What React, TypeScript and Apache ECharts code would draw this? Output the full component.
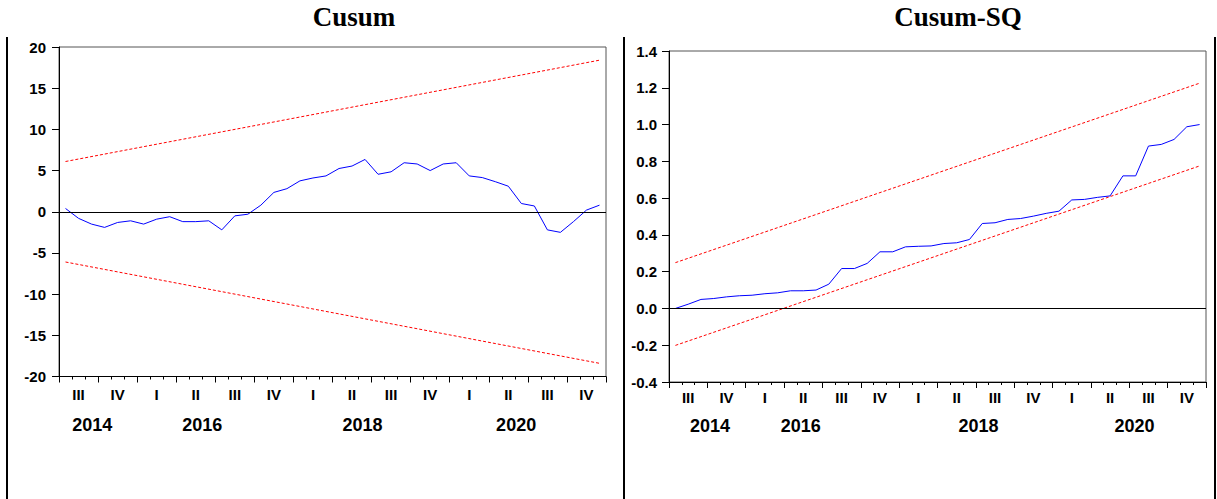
import React, { useEffect, useRef } from "react";
import * as echarts from "echarts";

const cusum = [
  0.4, -0.8, -1.5, -1.9, -1.3, -1.1, -1.5, -0.9, -0.6, -1.2, -1.2, -1.1, -2.2, -0.5,
  -0.3, 0.8, 2.35, 2.8, 3.75, 4.1, 4.35, 5.25, 5.55, 6.35, 4.55, 4.85, 5.95, 5.8,
  5.0, 5.8, 5.95, 4.35, 4.15, 3.65, 3.1, 1.0, 0.7, -2.2, -2.5, -1.2, 0.2, 0.8,
];
const cusumUpper = [6.1, 18.4];
const cusumLower = [-6.1, -18.4];

const cusumSq = [
  0.0, 0.023, 0.049, 0.054, 0.063, 0.069, 0.072, 0.08, 0.085, 0.096, 0.096, 0.1, 0.132, 0.217,
  0.217, 0.245, 0.308, 0.308, 0.335, 0.338, 0.34, 0.353, 0.357, 0.375, 0.462, 0.466, 0.484, 0.489,
  0.502, 0.517, 0.529, 0.59, 0.593, 0.604, 0.612, 0.721, 0.721, 0.883, 0.892, 0.919, 0.988, 1.0,
];
const sqUpper = [0.249, 1.225];
const sqLower = [-0.201, 0.775];

const quarterLabels = ["III", "IV", "I", "II", "III", "IV", "I", "II", "III", "IV", "I", "II", "III", "IV"];
const yearLabels = ["2014", "2016", "2018", "2020"];
const yearPosLeft = [2.55, 11.0, 23.3, 35.1];
const yearPosRight = [3.2, 10.3, 24.2, 36.4];

const SANS = '"Liberation Sans", Arial, sans-serif';
const SERIF = '"Liberation Serif", "Times New Roman", serif';

export default function App() {
  const ref = useRef<HTMLDivElement>(null);

  useEffect(() => {
    if (!ref.current) return;
    const chart = echarts.init(ref.current, undefined, { renderer: "svg" });
    const n = cusum.length;
    const quarterPos = quarterLabels.map((_, i) => i * 3 + 1.5);

    const xAxes = (g: number, yearPos: number[], qMargin: number, yMargin: number) => [
      {
        gridIndex: g,
        type: "value",
        min: 0,
        max: n,
        interval: 3,
        position: "bottom",
        axisLine: { show: true, onZero: false, lineStyle: { color: "#000", width: 1 } },
        axisTick: { show: true, length: 6, lineStyle: { color: "#000" } },
        minorTick: { show: true, splitNumber: 3, length: 3, lineStyle: { color: "#000" } },
        splitLine: { show: false },
        minorSplitLine: { show: false },
        axisLabel: {
          customValues: quarterPos,
          formatter: (v: number) => quarterLabels[Math.round((v - 1.5) / 3)] ?? "",
          fontFamily: SANS,
          fontWeight: "bold",
          fontSize: 15,
          color: "#000",
          margin: qMargin,
        },
      },
      {
        gridIndex: g,
        type: "value",
        min: 0,
        max: n,
        position: "bottom",
        axisLine: { show: false },
        axisTick: { show: false },
        splitLine: { show: false },
        axisLabel: {
          customValues: yearPos,
          formatter: (v: number) => {
            const k = yearPos.findIndex((p) => Math.abs(p - v) < 1e-6);
            return k >= 0 ? yearLabels[k] : "";
          },
          fontFamily: SANS,
          fontWeight: "bold",
          fontSize: 18,
          color: "#000",
          margin: yMargin,
        },
      },
    ];

    const yAxis = (g: number, min: number, max: number, interval: number, dec: number, margin: number) => ({
      gridIndex: g,
      type: "value",
      min,
      max,
      interval,
      axisLine: { show: true, onZero: false, lineStyle: { color: "#000" } },
      axisTick: { show: true, length: 7, lineStyle: { color: "#000" } },
      splitLine: { show: false },
      axisLabel: {
        formatter: (v: number) => v.toFixed(dec),
        fontFamily: SANS,
        fontWeight: "bold",
        fontSize: 15,
        color: "#000",
        margin,
      },
    });

    const blue = { color: "#0000ff", width: 1 };
    const red = { color: "#ff0000", width: 1, type: [3, 2] };
    const zeroLine = {
      silent: true,
      symbol: "none",
      label: { show: false },
      lineStyle: { color: "#000", width: 1, type: "solid" },
      data: [{ yAxis: 0 }],
    };

    chart.setOption({
      animation: false,
      backgroundColor: "#fff",
      grid: [
        { left: 59, top: 47, width: 547, height: 329.5, show: true, borderColor: "#555", borderWidth: 1, containLabel: false },
        { left: 669, top: 51, width: 537, height: 331, show: true, borderColor: "#555", borderWidth: 1, containLabel: false },
      ],
      xAxis: [...xAxes(0, yearPosLeft, 10, 39), ...xAxes(1, yearPosRight, 8, 35)],
      yAxis: [yAxis(0, -20, 20, 5, 0, 13), yAxis(1, -0.4, 1.4, 0.2, 1, 12)],
      series: [
        {
          type: "line",
          xAxisIndex: 0,
          yAxisIndex: 0,
          data: cusum.map((v, i) => [i + 0.5, v]),
          showSymbol: false,
          lineStyle: blue,
          markLine: zeroLine,
        },
        {
          type: "line",
          xAxisIndex: 0,
          yAxisIndex: 0,
          data: [[0.5, cusumUpper[0]], [n - 0.5, cusumUpper[1]]],
          showSymbol: false,
          lineStyle: red,
        },
        {
          type: "line",
          xAxisIndex: 0,
          yAxisIndex: 0,
          data: [[0.5, cusumLower[0]], [n - 0.5, cusumLower[1]]],
          showSymbol: false,
          lineStyle: red,
        },
        {
          type: "line",
          xAxisIndex: 2,
          yAxisIndex: 1,
          data: cusumSq.map((v, i) => [i + 0.5, v]),
          showSymbol: false,
          lineStyle: blue,
          markLine: zeroLine,
        },
        {
          type: "line",
          xAxisIndex: 2,
          yAxisIndex: 1,
          data: [[0.5, sqUpper[0]], [n - 0.5, sqUpper[1]]],
          showSymbol: false,
          lineStyle: red,
        },
        {
          type: "line",
          xAxisIndex: 2,
          yAxisIndex: 1,
          data: [[0.5, sqLower[0]], [n - 0.5, sqLower[1]]],
          showSymbol: false,
          lineStyle: red,
        },
      ],
      graphic: [
        { type: "line", shape: { x1: 7, y1: 37, x2: 7, y2: 499 }, style: { stroke: "#000", lineWidth: 2 } },
        { type: "line", shape: { x1: 624, y1: 37, x2: 624, y2: 499 }, style: { stroke: "#000", lineWidth: 2 } },
        { type: "line", shape: { x1: 1215, y1: 37, x2: 1215, y2: 499 }, style: { stroke: "#000", lineWidth: 2 } },
        {
          type: "text",
          x: 354,
          y: 17,
          style: { text: "Cusum", align: "center", verticalAlign: "middle", fontFamily: SERIF, fontWeight: "bold", fontSize: 27, fill: "#000" },
        },
        {
          type: "text",
          x: 958,
          y: 17,
          style: { text: "Cusum-SQ", align: "center", verticalAlign: "middle", fontFamily: SERIF, fontWeight: "bold", fontSize: 27, fill: "#000" },
        },
      ],
    });

    return () => chart.dispose();
  }, []);

  return <div ref={ref} style={{ position: "absolute", left: 0, top: 0, width: 1217, height: 499 }} />;
}
